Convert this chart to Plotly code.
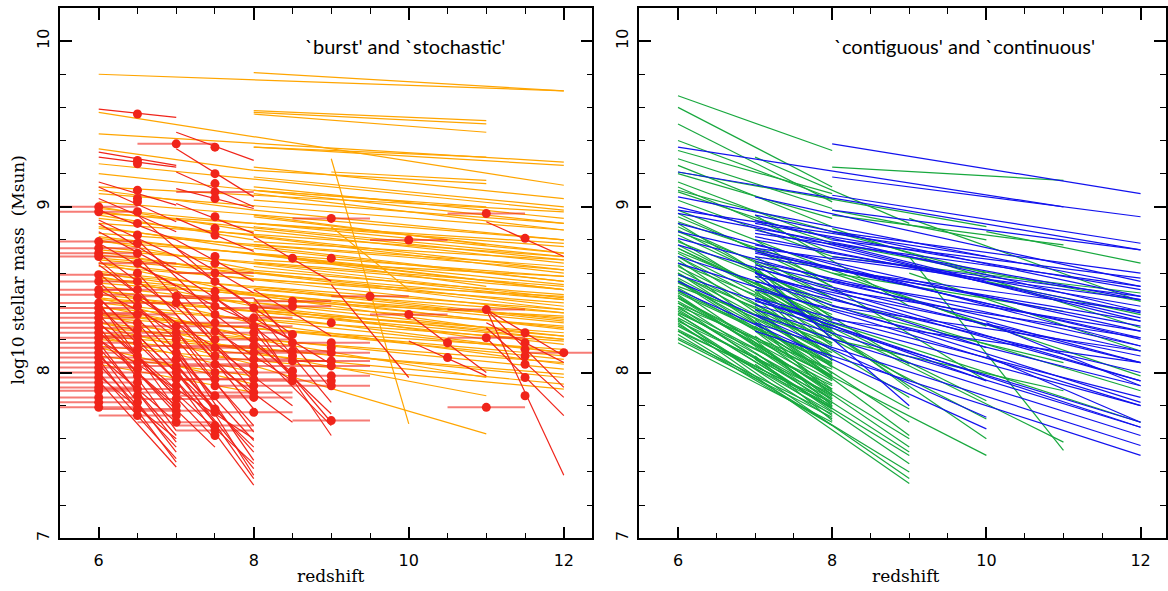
import plotly.graph_objects as go

# ======================= LEFT PANEL : `burst' and `stochastic' =======================
# Orange tracks, grouped by (start redshift, end redshift): log mass at start / at end
O_6_12_S = [9.80, 9.57, 9.44, 9.26, 9.20, 9.12, 9.08, 9.03, 8.99, 8.96, 8.93, 8.90, 8.87,
            8.84, 8.82, 8.79, 8.76, 8.74, 8.71, 8.69, 8.66, 8.64, 8.61, 8.59, 8.56, 8.54,
            8.52, 8.49, 8.47, 8.44, 8.42, 8.39, 8.36, 8.33, 8.30, 8.27, 8.24, 8.20, 8.16,
            8.97, 8.81, 8.68, 8.57, 8.45, 8.35, 8.22]
O_6_12_E = [9.70, 9.13, 9.27, 8.98, 8.90, 8.97, 8.86, 8.80, 8.72, 8.78, 8.62, 8.70, 8.55,
            8.64, 8.50, 8.58, 8.45, 8.52, 8.40, 8.47, 8.36, 8.42, 8.31, 8.38, 8.27, 8.33,
            8.22, 8.28, 8.17, 8.24, 8.12, 8.19, 8.08, 8.14, 8.02, 8.06, 7.97, 7.93, 7.90,
            8.68, 8.53, 8.44, 8.30, 8.20, 8.10, 7.99]
O_8_12_S = [9.81, 9.36, 9.24, 9.18, 9.12, 9.08, 9.04, 8.98, 8.94, 8.90, 8.86, 8.82, 8.79,
            8.75, 8.72, 8.68, 8.64, 8.60, 8.56, 8.52, 8.48, 8.44, 8.40, 8.35, 8.30,
            8.88, 8.77, 8.66, 8.50, 8.38]
O_8_12_E = [9.70, 9.25, 9.05, 9.00, 8.93, 8.86, 8.90, 8.80, 8.72, 8.76, 8.66, 8.60, 8.68,
            8.55, 8.50, 8.58, 8.44, 8.38, 8.46, 8.32, 8.26, 8.34, 8.20, 8.12, 8.05,
            8.70, 8.62, 8.50, 8.36, 8.22]
O_6_8_S = [9.35, 9.10, 9.00, 8.95, 8.88, 8.80, 8.73, 8.66, 8.58, 8.50, 8.45, 8.40, 8.35,
           8.28, 8.22, 8.15, 8.10, 8.05]
O_6_8_E = [9.22, 8.98, 8.85, 8.80, 8.74, 8.62, 8.58, 8.47, 8.40, 8.30, 8.20, 8.22, 8.12,
           8.05, 8.00, 7.93, 7.98, 7.88]
O_8_11_S = [9.58, 9.57, 9.56, 9.36, 9.22, 9.10, 8.95, 8.72, 8.40, 8.20, 8.04]
O_8_11_E = [9.52, 9.50, 9.45, 9.30, 9.14, 9.00, 8.77, 8.52, 8.20, 7.97, 7.63]
O_6_11_S = [8.60, 8.30]
O_6_11_E = [8.27, 7.86]
O_8_10_S = [9.10]
O_8_10_E = [9.03]
O_9_10_S = [9.29, 8.88]
O_9_10_E = [7.69, 8.50]
O_9_11_S = [9.21]
O_9_11_E = [9.16]

# Red tracks (steep), grouped by (start redshift, end redshift)
R_6_7_S = [9.59, 9.33, 9.30, 9.15, 9.12, 9.05, 8.98, 8.92, 8.85, 8.78, 8.72, 8.65, 8.60,
           8.55, 8.50, 8.45, 8.40, 8.35, 8.30, 8.25, 8.20, 8.15, 8.12, 8.10, 8.05, 8.00, 7.95,
           8.90, 8.68, 8.42, 8.28, 8.18, 8.08, 7.98]
R_6_7_E = [9.54, 9.25, 9.24, 9.01, 8.91, 8.85, 8.80, 8.70, 8.60, 8.52, 8.38, 8.30, 8.20,
           8.10, 8.25, 8.00, 7.95, 7.85, 7.90, 7.75, 7.80, 7.62, 7.52, 7.70, 7.55, 7.48, 7.43,
           8.62, 8.28, 7.78, 7.65, 7.58, 7.46, 7.60]
R_6_8_S = [8.45, 8.30, 8.20]
R_6_8_E = [7.55, 7.45, 7.60]
R_65_75_S = [8.95, 8.80, 8.70, 8.65, 8.60, 8.50, 8.45, 8.40, 8.30, 8.20, 8.10, 8.00]
R_65_75_E = [8.55, 8.35, 8.20, 8.40, 8.10, 8.00, 8.15, 7.85, 7.78, 7.70, 7.60, 7.55]
R_7_8_S = [9.45, 9.35, 9.21, 9.11, 9.02, 8.93, 8.80, 8.70, 8.60, 8.50, 8.40, 8.30, 8.25,
           8.20, 8.15, 8.10, 8.05, 8.00, 7.95, 8.75, 8.45, 8.35, 8.12, 8.02]
R_7_8_E = [9.28, 9.06, 9.00, 8.99, 8.84, 8.73, 8.55, 8.40, 8.30, 8.05, 7.95, 7.85, 7.64,
           7.68, 7.47, 7.59, 7.52, 7.42, 7.32, 8.48, 7.88, 7.78, 7.38, 7.36]
R_75_85_S = [8.55, 8.45, 8.40, 8.35, 8.25, 8.15, 8.05]
R_75_85_E = [8.23, 8.10, 8.20, 8.00, 7.95, 7.80, 7.70]
R_8_9_S = [8.82, 8.50, 8.45, 8.38, 8.33, 8.30, 8.25, 8.20, 8.15]
R_8_9_E = [8.55, 8.22, 7.90, 7.82, 8.05, 7.62, 7.70, 7.75, 7.68]
R_9_10_S = [8.53]
R_9_10_E = [7.97]
R_10_11_S = [8.35, 8.19]
R_10_11_E = [8.00, 7.98]
R_11_12_S = [8.91, 8.38, 8.38, 8.27, 8.21, 8.38, 8.30]
R_11_12_E = [8.70, 8.10, 7.91, 7.85, 7.74, 7.38, 8.06]

# Red points with a redshift bar (+/-0.5), one list per redshift column
BAR_Z6 = [9.00, 8.97, 8.79, 8.75, 8.72, 8.70, 8.59, 8.55, 8.50, 8.47, 8.42, 8.39, 8.36,
          8.33, 8.30, 8.27, 8.24, 8.21, 8.18, 8.15, 8.12, 8.09, 8.06, 8.03, 8.00, 7.97,
          7.94, 7.91, 7.89, 7.85, 7.82, 7.79]
BAR_Z65 = [8.66, 8.50, 8.35, 8.22, 8.06, 7.90, 7.78, 7.74]
BAR_Z7 = [9.38, 8.46, 8.42, 8.28, 8.24, 8.16, 8.08, 8.04, 8.00, 7.96, 7.88, 7.84, 7.77, 7.70]
BAR_Z75 = [9.09, 8.60, 8.45, 8.30, 8.15, 8.05, 7.96, 7.86, 7.68, 7.65]
BAR_Z8 = [8.39, 8.33, 8.28, 8.24, 8.20, 8.16, 8.12, 8.08, 8.04, 8.00, 7.96, 7.92, 7.88,
          7.85, 7.76]
BAR_Z85 = [8.43, 8.40, 8.13, 8.07, 7.95]
BAR_Z9 = [8.93, 8.18, 8.12, 8.07, 8.04, 7.98, 7.92, 7.71]
BAR_Z95 = [8.46]
BAR_Z10 = [8.80, 8.35]
BAR_Z11 = [8.96, 8.38, 8.21, 7.79]
BAR_Z12 = [8.12]
BAR_HALF_WIDTH = 0.5

# Red points sitting on a red track (no redshift bar)
PT_Z65 = [9.56, 9.28, 9.26, 9.10, 9.05, 9.03, 8.97, 8.90, 8.83, 8.78, 8.72, 8.60, 8.55,
          8.45, 8.40, 8.30, 8.26, 8.18, 8.14, 8.10, 8.02, 7.98, 7.94, 7.86, 7.82]
PT_Z7 = [8.20, 8.12, 7.92, 7.80, 7.74]
PT_Z75 = [9.36, 9.20, 9.14, 9.05, 8.94, 8.87, 8.83, 8.70, 8.66, 8.55, 8.49, 8.40, 8.35,
          8.25, 8.20, 8.10, 8.00, 7.92, 7.78, 7.76, 7.62]
PT_Z85 = [8.69, 8.23, 8.18, 8.10, 8.01, 7.98]
PT_Z9 = [8.69, 8.30, 8.15, 7.95]
PT_Z105 = [8.18, 8.09]
PT_Z115 = [8.81, 8.24, 8.18, 8.14, 8.10, 8.05, 7.97, 7.86]

# ================= RIGHT PANEL : `contiguous' and `continuous' =================
G_6_8_S = [9.67, 9.60, 9.50, 9.34, 9.29, 9.20, 9.15, 9.09, 9.04, 8.98, 8.94, 8.91, 8.88,
           8.85, 8.83, 8.79, 8.77, 8.73, 8.72, 8.70, 8.68, 8.66, 8.62, 8.60, 8.59, 8.57,
           8.54, 8.52, 8.51, 8.48, 8.46, 8.45, 8.42, 8.40, 8.39, 8.36, 8.35, 8.33, 8.31,
           8.29, 8.28, 8.25, 8.21, 8.18,
           9.40, 9.25, 9.12, 8.96, 8.86, 8.75, 8.64, 8.56, 8.49, 8.43, 8.37, 8.32, 8.26,
           8.23, 8.20, 8.55, 8.47, 8.38]
G_6_8_E = [9.34, 9.12, 9.03, 9.08, 8.99, 8.93, 8.80, 8.78, 8.70, 8.62, 8.55, 8.60, 8.45,
           8.50, 8.40, 8.42, 8.30, 8.35, 8.25, 8.22, 8.05, 8.28, 8.15, 8.10, 8.20, 8.08,
           8.12, 8.18, 8.00, 8.05, 7.88, 7.95, 7.98, 8.02, 7.90, 7.92, 7.78, 7.84, 7.87,
           7.76, 7.80, 7.82, 7.75, 7.70,
           9.05, 8.88, 8.72, 8.52, 8.38, 8.32, 8.18, 7.98, 8.06, 7.93, 7.86, 7.72, 7.79,
           7.68, 7.73, 7.96, 7.85, 7.81]
G_6_9_S = [8.80, 8.70, 8.60, 8.55, 8.50, 8.45, 8.40, 8.35, 8.30, 8.25, 8.90, 8.65, 8.42, 8.32]
G_6_9_E = [7.95, 7.85, 7.70, 7.78, 7.55, 7.60, 7.45, 7.50, 7.33, 7.40, 8.05, 7.62, 7.52, 7.36]
G_6_10_S = [9.21, 9.10, 8.75, 8.45]
G_6_10_E = [8.88, 8.60, 7.83, 7.50]
G_7_8_S = [8.70, 8.66, 8.62, 8.58, 8.55, 8.52, 8.48, 8.45, 8.42, 8.38, 8.35, 8.32, 8.28,
           8.25, 8.22, 8.18, 8.15, 8.12, 8.08, 8.05, 8.64, 8.50, 8.40, 8.30, 8.20, 8.10]
G_7_8_E = [8.45, 8.33, 8.31, 8.26, 8.24, 8.17, 8.16, 8.10, 8.09, 8.03, 8.04, 7.97, 7.96,
           7.90, 7.89, 7.83, 7.84, 7.79, 7.78, 7.74, 8.20, 8.07, 7.99, 7.86, 7.80, 7.71]
G_7_9_S = [9.30, 8.95, 8.60]
G_7_9_E = [8.90, 8.40, 7.90]
G_7_10_S = [8.80, 8.55]
G_7_10_E = [7.95, 7.60]
G_7_11_S = [8.50]
G_7_11_E = [7.58]
G_8_10_S = [8.98, 8.20, 8.62]
G_8_10_E = [8.80, 7.72, 8.28]
G_8_11_S = [9.24, 8.95, 8.60, 8.40, 8.20]
G_8_11_E = [9.16, 8.77, 8.37, 8.06, 7.89]
G_8_12_S = [8.87, 8.70, 8.60, 8.45, 8.30, 8.78]
G_8_12_E = [8.27, 8.48, 7.98, 7.89, 7.70, 8.43]
G_9_11_S = [8.70]
G_9_11_E = [7.53]
G_9_12_S = [8.93, 8.60]
G_9_12_E = [8.43, 8.13]
G_10_12_S = [8.85, 8.55]
G_10_12_E = [8.66, 8.35]

B_6_12_S = [9.21, 9.06, 9.00, 8.96, 8.90, 8.81, 8.77, 8.66, 8.59, 8.85, 8.70]
B_6_12_E = [8.74, 8.52, 8.31, 8.44, 8.16, 8.06, 7.95, 7.80, 7.67, 8.20, 7.82]
B_6_11_S = [9.36]
B_6_11_E = [9.00]
B_6_10_S = [8.98, 8.55, 8.50]
B_6_10_E = [8.70, 7.73, 7.66]
B_7_12_S = [9.06, 8.95, 8.92, 8.86, 8.84, 8.80, 8.77, 8.75, 8.73, 8.70, 8.67, 8.65, 8.63,
            8.60, 8.55, 8.45, 8.43, 8.41, 8.38, 8.30, 8.25, 8.90, 8.82, 8.72, 8.58, 8.50, 8.35]
B_7_12_E = [8.55, 8.46, 8.37, 8.33, 8.52, 8.40, 8.25, 8.44, 8.21, 8.31, 8.16, 8.13, 8.06,
            7.95, 8.00, 7.85, 7.80, 7.70, 7.67, 7.56, 7.50, 8.50, 8.36, 8.28, 8.10, 7.92, 7.62]
B_7_10_S = [8.60, 8.45]
B_7_10_E = [8.15, 7.95]
B_7_9_S = [8.61]
B_7_9_E = [7.80]
B_8_12_S = [9.38, 9.18, 9.07, 8.98, 8.85, 8.80, 8.70, 8.62, 8.55, 8.50, 8.40, 8.32]
B_8_12_E = [9.08, 8.94, 8.78, 8.74, 8.60, 8.57, 8.46, 8.37, 8.25, 8.21, 8.13, 8.06]
B_8_10_S = [8.78]
B_8_10_E = [8.55]
B_10_12_S = [8.30, 8.10]
B_10_12_E = [7.92, 7.70]

# axis ticks / labels
X_MAJOR = [6, 8, 10, 12]
X_MINOR = [6.5, 7, 7.5, 8.5, 9, 9.5, 10.5, 11, 11.5]
Y_MAJOR = [7, 8, 9, 10]
Y_MINOR = [7.2, 7.4, 7.6, 7.8, 8.2, 8.4, 8.6, 8.8, 9.2, 9.4, 9.6, 9.8]
LEFT_LABEL = "`burst' and `stochastic'"
RIGHT_LABEL = "`contiguous' and `continuous'"
X_TITLE = "redshift"
Y_TITLE = "log10 stellar mass  (Msun)"

# ---------------------------------------------------------------------------
ORANGE = [(6, 12, O_6_12_S, O_6_12_E), (8, 12, O_8_12_S, O_8_12_E), (6, 8, O_6_8_S, O_6_8_E),
          (8, 11, O_8_11_S, O_8_11_E), (6, 11, O_6_11_S, O_6_11_E), (8, 10, O_8_10_S, O_8_10_E),
          (9, 10, O_9_10_S, O_9_10_E), (9, 11, O_9_11_S, O_9_11_E)]
RED = [(6, 7, R_6_7_S, R_6_7_E), (6, 8, R_6_8_S, R_6_8_E), (6.5, 7.5, R_65_75_S, R_65_75_E),
       (7, 8, R_7_8_S, R_7_8_E), (7.5, 8.5, R_75_85_S, R_75_85_E), (8, 9, R_8_9_S, R_8_9_E),
       (9, 10, R_9_10_S, R_9_10_E), (10, 11, R_10_11_S, R_10_11_E), (11, 12, R_11_12_S, R_11_12_E)]
BARS = [(6, BAR_Z6), (6.5, BAR_Z65), (7, BAR_Z7), (7.5, BAR_Z75), (8, BAR_Z8), (8.5, BAR_Z85),
        (9, BAR_Z9), (9.5, BAR_Z95), (10, BAR_Z10), (11, BAR_Z11), (12, BAR_Z12)]
POINTS = [(6.5, PT_Z65), (7, PT_Z7), (7.5, PT_Z75), (8.5, PT_Z85), (9, PT_Z9),
          (10.5, PT_Z105), (11.5, PT_Z115)]
GREEN = [(6, 8, G_6_8_S, G_6_8_E), (6, 9, G_6_9_S, G_6_9_E), (6, 10, G_6_10_S, G_6_10_E),
         (7, 8, G_7_8_S, G_7_8_E), (7, 9, G_7_9_S, G_7_9_E), (7, 10, G_7_10_S, G_7_10_E),
         (7, 11, G_7_11_S, G_7_11_E),
         (8, 10, G_8_10_S, G_8_10_E), (8, 11, G_8_11_S, G_8_11_E), (8, 12, G_8_12_S, G_8_12_E),
         (9, 11, G_9_11_S, G_9_11_E), (9, 12, G_9_12_S, G_9_12_E), (10, 12, G_10_12_S, G_10_12_E)]
BLUE = [(6, 12, B_6_12_S, B_6_12_E), (6, 11, B_6_11_S, B_6_11_E), (6, 10, B_6_10_S, B_6_10_E),
        (7, 12, B_7_12_S, B_7_12_E), (7, 10, B_7_10_S, B_7_10_E), (7, 9, B_7_9_S, B_7_9_E),
        (8, 12, B_8_12_S, B_8_12_E), (8, 10, B_8_10_S, B_8_10_E), (10, 12, B_10_12_S, B_10_12_E)]


def tracks(groups):
    xs, ys = [], []
    for z0, z1, starts, ends in groups:
        for a, b in zip(starts, ends, strict=True):
            xs += [z0, z1, None]
            ys += [a, b, None]
    return xs, ys


def bars(groups, half):
    xs, ys = [], []
    for z, ms in groups:
        for m in ms:
            xs += [z - half, z + half, None]
            ys += [m, m, None]
    return xs, ys


def points(groups):
    xs, ys = [], []
    for z, ms in groups:
        xs += [z] * len(ms)
        ys += ms
    return xs, ys


ORANGE_C = "rgb(255,165,0)"
RED_C = "rgb(240,36,26)"
BAR_C = "rgba(240,36,26,0.6)"
GREEN_C = "rgb(24,168,62)"
BLUE_C = "rgb(18,18,238)"

fig = go.Figure()
ox, oy = tracks(ORANGE)
fig.add_trace(go.Scatter(x=ox, y=oy, mode="lines", line=dict(color=ORANGE_C, width=1.2),
                         xaxis="x", yaxis="y", hoverinfo="skip"))
bx, by = bars(BARS, BAR_HALF_WIDTH)
fig.add_trace(go.Scatter(x=bx, y=by, mode="lines", line=dict(color=BAR_C, width=2),
                         xaxis="x", yaxis="y", hoverinfo="skip"))
rx, ry = tracks(RED)
fig.add_trace(go.Scatter(x=rx, y=ry, mode="lines", line=dict(color=RED_C, width=1.2),
                         xaxis="x", yaxis="y", hoverinfo="skip"))
p1x, p1y = points(BARS)
p2x, p2y = points(POINTS)
fig.add_trace(go.Scatter(x=p1x + p2x, y=p1y + p2y, mode="markers",
                         marker=dict(color=RED_C, size=9, line=dict(width=0)),
                         xaxis="x", yaxis="y"))

gx, gy = tracks(GREEN)
fig.add_trace(go.Scatter(x=gx, y=gy, mode="lines", line=dict(color=GREEN_C, width=1.2),
                         xaxis="x2", yaxis="y2", hoverinfo="skip"))
blx, bly = tracks(BLUE)
fig.add_trace(go.Scatter(x=blx, y=bly, mode="lines", line=dict(color=BLUE_C, width=1.2),
                         xaxis="x2", yaxis="y2", hoverinfo="skip"))

W, H = 1168, 591


def px(x):
    return x / W


def py(y):
    return 1 - y / H


tick_font = dict(family="DejaVu Sans", size=16, color="black")


def xaxis(dom, rng):
    return dict(domain=dom, range=rng, showline=True, linecolor="black", linewidth=1.5,
                mirror="allticks", ticks="inside", ticklen=12, tickwidth=1.5, tickcolor="black",
                tickvals=X_MAJOR, ticktext=[str(v) for v in X_MAJOR], tickfont=tick_font,
                showgrid=False, zeroline=False, ticklabelstandoff=7,
                minor=dict(tickvals=X_MINOR, ticks="inside", ticklen=6, tickwidth=1.2,
                           tickcolor="black", showgrid=False))


def yaxis(anchor):
    return dict(domain=[py(541), py(8)], range=[7, 10.2], anchor=anchor, showline=True,
                linecolor="black", linewidth=1.5, mirror="allticks", ticks="inside",
                ticklen=12, tickwidth=1.5, tickcolor="black", tickvals=Y_MAJOR,
                ticktext=[str(v) for v in Y_MAJOR], tickangle=-90, tickfont=tick_font,
                showgrid=False, zeroline=False, ticklabelstandoff=3,
                minor=dict(tickvals=Y_MINOR, ticks="inside", ticklen=6, tickwidth=1.2,
                           tickcolor="black", showgrid=False))


xa1 = xaxis([px(60), px(593)], [5.5, 12.37])
xa1["anchor"] = "y"
xa2 = xaxis([px(640), px(1167)], [5.5, 12.33])
xa2["anchor"] = "y2"

title_font = dict(family="DejaVu Serif", size=17, color="black")
label_font = dict(family="Lato", size=20, color="black")


def note(text, x, y, font, angle=0):
    return dict(text=text, x=px(x), y=py(y), xref="paper", yref="paper",
                xanchor="center", yanchor="middle", textangle=angle,
                showarrow=False, font=font)


annotations = [
    note(LEFT_LABEL, 405, 46, label_font),
    note(RIGHT_LABEL, 965, 46, label_font),
    note(X_TITLE, 331, 579, title_font),
    note(X_TITLE, 906, 579, title_font),
    note(Y_TITLE, 18, 271, title_font, -90),
]

fig.update_layout(
    width=W, height=H, margin=dict(l=0, r=0, t=0, b=0), autosize=False,
    paper_bgcolor="white", plot_bgcolor="white", showlegend=False,
    xaxis=xa1, yaxis=yaxis("x"), xaxis2=xa2, yaxis2=yaxis("x2"),
    annotations=annotations,
)

fig.write_html("out.html")
